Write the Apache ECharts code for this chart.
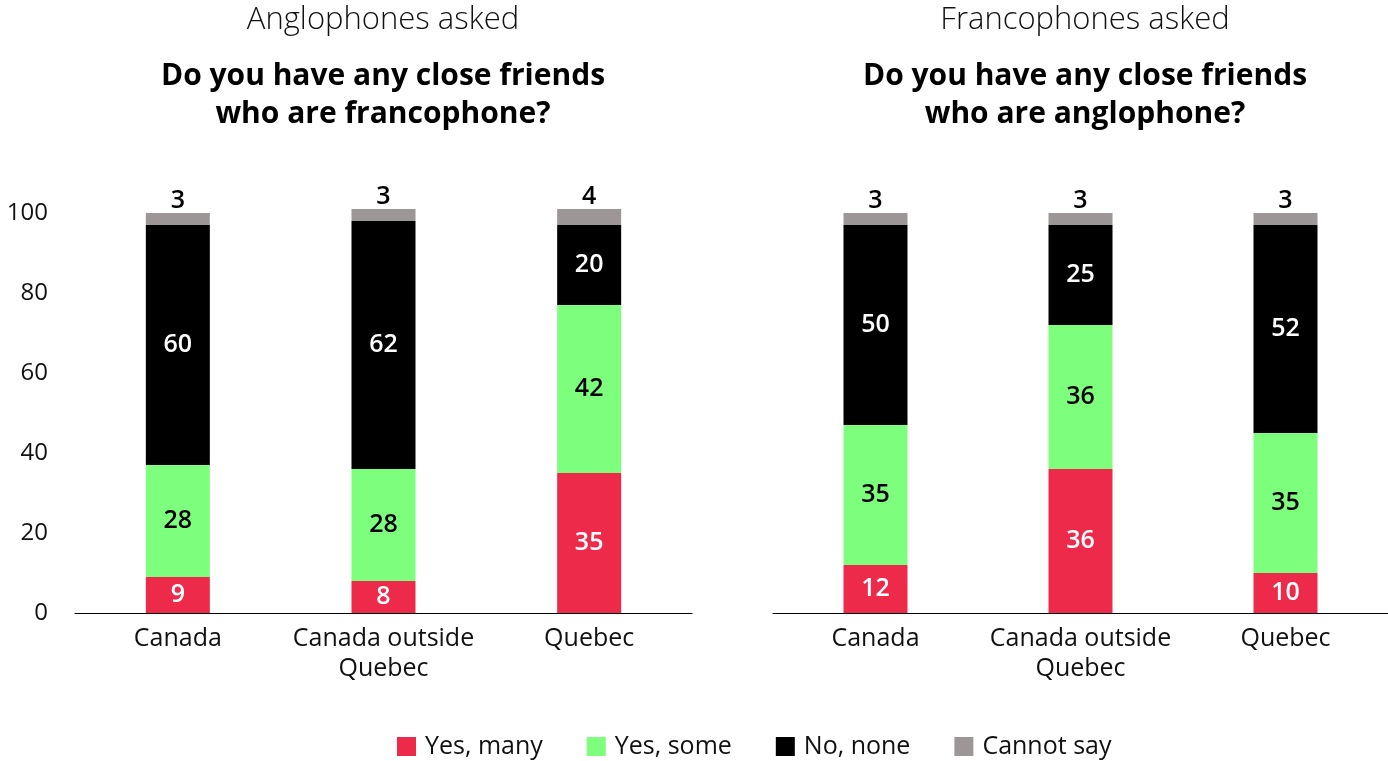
<!DOCTYPE html>
<html>
<head>
<meta charset="utf-8">
<script src="https://cdn.jsdelivr.net/npm/echarts@6/dist/echarts.min.js"></script>
<style>
  html, body { margin: 0; padding: 0; background: #fff; }
  #chart { width: 1388px; height: 761px; }
</style>
</head>
<body>
<div id="chart"></div>
<script>
// Survey answers, in percent, for each region
const categories = ['Canada', 'Canada outside\nQuebec', 'Quebec'];
const seriesNames = ['Yes, many', 'Yes, some', 'No, none', 'Cannot say'];
const colors = ['#EE2A4B', '#7DFF7D', '#000000', '#9C9696'];

// Anglophones asked about francophone friends
const angloYesMany = [9, 8, 35];
const angloYesSome = [28, 28, 42];
const angloNoNone = [60, 62, 20];
const angloCannotSay = [3, 3, 4];

// Francophones asked about anglophone friends
const francoYesMany = [12, 36, 10];
const francoYesSome = [35, 36, 35];
const francoNoNone = [50, 25, 52];
const francoCannotSay = [3, 3, 3];

const yTicks = [0, 20, 40, 60, 80, 100];

const FONT = '"Open Sans", "Noto Sans", sans-serif';
const labelColors = ['#ffffff', '#000000', '#ffffff', '#000000'];

const panels = [
  { left: 75, width: 617, titleX: 378, subtitle: 'Anglophones asked',
    question: 'Do you have any close friends\nwho are francophone?',
    data: [angloYesMany, angloYesSome, angloNoNone, angloCannotSay] },
  { left: 773, width: 615, titleX: 1080, subtitle: 'Francophones asked',
    question: 'Do you have any close friends\nwho are anglophone?',
    data: [francoYesMany, francoYesSome, francoNoNone, francoCannotSay] }
];

const grids = [], xAxes = [], yAxes = [], series = [], titles = [];

panels.forEach((p, i) => {
  titles.push({
    text: p.subtitle, left: p.titleX, top: 0, textAlign: 'center',
    textStyle: { fontFamily: FONT, fontSize: 31, fontWeight: 300, color: '#111' }
  });
  titles.push({
    text: p.question, left: p.titleX, top: 52, textAlign: 'center',
    textStyle: { fontFamily: FONT, fontSize: 30, fontWeight: 'bold', color: '#000', lineHeight: 38 }
  });
  grids.push({ left: p.left, width: p.width, top: 213, height: 400, containLabel: false });
  xAxes.push({
    type: 'category', gridIndex: i, data: categories,
    axisLine: { lineStyle: { color: '#000', width: 1.2 } },
    axisTick: { show: false },
    axisLabel: {
      interval: 0, hideOverlap: false,
      fontFamily: FONT, fontSize: 25, color: '#111', lineHeight: 30, margin: 11
    }
  });
  yAxes.push({
    type: 'value', gridIndex: i, min: yTicks[0], max: yTicks[yTicks.length - 1], interval: 20,
    splitLine: { show: false }, axisLine: { show: false }, axisTick: { show: false },
    axisLabel: {
      show: i === 0, fontFamily: FONT, fontSize: 24, color: '#111', margin: 27,
      formatter: v => yTicks.includes(v) ? String(v) : ''
    }
  });
  p.data.forEach((vals, s) => {
    const isTop = s === 3;
    series.push({
      name: seriesNames[s], type: 'bar', stack: 'p' + i,
      xAxisIndex: i, yAxisIndex: i, barWidth: 64, clip: false,
      itemStyle: { color: colors[s] },
      label: {
        show: true, position: isTop ? 'top' : 'inside', distance: 0,
        fontFamily: FONT, fontSize: 25, fontWeight: 600,
        color: labelColors[s]
      },
      data: vals
    });
  });
});

const chart = echarts.init(document.getElementById('chart'), null, { renderer: 'canvas' });
chart.setOption({
  animation: false,
  color: colors,
  title: titles,
  legend: {
    data: seriesNames, top: 729, left: 392,
    itemWidth: 19, itemHeight: 19, itemGap: 44,
    icon: 'rect',
    textStyle: { fontFamily: FONT, fontSize: 25, color: '#111', padding: [0, 0, 0, 4] }
  },
  grid: grids, xAxis: xAxes, yAxis: yAxes, series: series
});
</script>
</body>
</html>
